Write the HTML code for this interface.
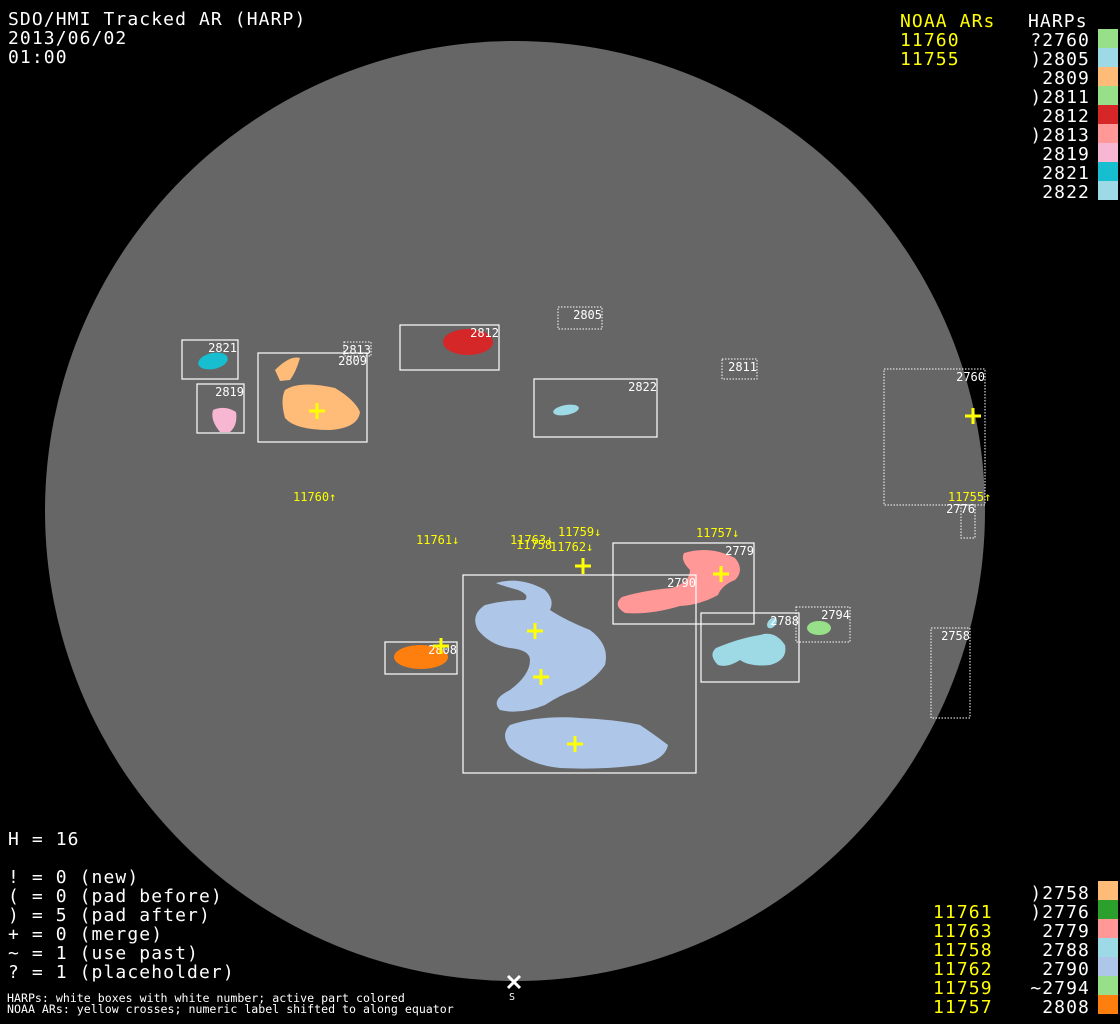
<!DOCTYPE html>
<html><head><meta charset="utf-8"><style>
html,body{margin:0;padding:0;background:#000;width:1120px;height:1024px;overflow:hidden}
svg{display:block}
text{font-family:"DejaVu Sans Mono","Liberation Mono",monospace}
.big{letter-spacing:1.1px}
</style></head><body>
<svg width="1120" height="1024" viewBox="0 0 1120 1024" xmlns="http://www.w3.org/2000/svg">
<rect width="1120" height="1024" fill="#000"/>
<circle cx="515" cy="511" r="470" fill="#666"/>

<!-- blobs -->
<ellipse cx="213" cy="361" rx="15" ry="8" fill="#17becf" transform="rotate(-12 213 361)"/>
<path d="M213,410 Q225,405 236,412 Q238,425 230,432 L220,432 Q210,420 213,410Z" fill="#f7b6d2"/>
<path d="M275,370 Q290,355 300,358 Q296,372 290,380 L280,381Z" fill="#ffbb78"/>
<path d="M285,390 Q300,380 335,388 Q355,400 360,412 Q358,428 330,430 Q295,430 285,418 Q280,400 285,390Z" fill="#ffbb78"/>
<ellipse cx="468" cy="342" rx="25" ry="13" fill="#d62728"/>
<ellipse cx="566" cy="410" rx="13" ry="5" fill="#9edae5" transform="rotate(-10 566 410)"/>
<path d="M496,583 Q520,576 545,590 Q555,600 550,610 Q565,620 590,630 Q610,645 605,665 Q595,680 575,690 Q560,695 545,705 Q520,715 500,710 Q490,700 510,690 Q530,675 530,660 Q530,650 510,648 Q490,645 478,630 Q470,615 485,605 Q505,600 525,600 Q530,595 518,590 Q500,585 496,583Z" fill="#aec7e8"/>
<path d="M510,725 Q540,715 580,718 Q620,720 640,725 Q655,735 668,745 Q665,760 640,765 Q600,770 560,768 Q530,765 510,748 Q500,735 510,725Z" fill="#aec7e8"/>
<path d="M684,553 Q710,545 735,558 Q745,570 735,580 Q722,585 718,595 Q700,605 680,606 Q650,615 625,613 Q612,605 622,597 Q645,590 672,588 Q690,582 690,570 Q680,560 684,553Z" fill="#ff9896"/>
<path d="M716,648 Q740,638 760,635 Q775,630 785,645 Q788,660 770,665 Q750,667 740,660 Q728,668 718,665 Q708,655 716,648Z" fill="#9edae5"/>
<ellipse cx="772" cy="623" rx="4" ry="6" fill="#9edae5" transform="rotate(40 772 623)"/>
<ellipse cx="819" cy="628" rx="12" ry="7" fill="#98df8a"/>
<ellipse cx="421" cy="657" rx="27" ry="12" fill="#ff7f0e"/>

<!-- boxes solid -->
<g fill="none" stroke="#fff" stroke-width="1.2">
<rect x="182" y="340" width="56" height="39"/>
<rect x="197" y="384" width="47" height="49"/>
<rect x="258" y="353" width="109" height="89"/>
<rect x="400" y="325" width="99" height="45"/>
<rect x="534" y="379" width="123" height="58"/>
<rect x="463" y="575" width="233" height="198"/>
<rect x="613" y="543" width="141" height="81"/>
<rect x="701" y="613" width="98" height="69"/>
<rect x="385" y="642" width="72" height="32"/>
</g>
<g fill="none" stroke="#fff" stroke-width="1" stroke-dasharray="1.5,1.5">
<rect x="344" y="342" width="27" height="14"/>
<rect x="558" y="307" width="44" height="22"/>
<rect x="722" y="359" width="35" height="20"/>
<rect x="884" y="369" width="101" height="136"/>
<rect x="961" y="505" width="14" height="33"/>
<rect x="931" y="628" width="39" height="90"/>
<rect x="796" y="607" width="54" height="35"/>
</g>
<g fill="#fff" font-size="12" text-anchor="end">
<text x="237" y="352">2821</text>
<text x="244" y="396">2819</text>
<text x="367" y="365">2809</text>
<text x="371" y="354">2813</text>
<text x="499" y="337">2812</text>
<text x="602" y="319">2805</text>
<text x="657" y="391">2822</text>
<text x="757" y="371">2811</text>
<text x="985" y="381">2760</text>
<text x="975" y="513">2776</text>
<text x="970" y="640">2758</text>
<text x="696" y="587">2790</text>
<text x="754" y="555">2779</text>
<text x="799" y="625">2788</text>
<text x="850" y="619">2794</text>
<text x="457" y="654">2808</text>
</g>
<!-- crosses -->
<g stroke="#ff0" stroke-width="3">
<path d="M309,411h16M317,403v16"/>
<path d="M965,416h16M973,408v16"/>
<path d="M575,566h16M583,558v16"/>
<path d="M713,574h16M721,566v16"/>
<path d="M527,631h16M535,623v16"/>
<path d="M533,677h16M541,669v16"/>
<path d="M567,744h16M575,736v16"/>
<path d="M433,646h16M441,638v16"/>
</g>
<g fill="#ff0" font-size="12">
<text x="293" y="501">11760↑</text>
<text x="416" y="544">11761↓</text>
<text x="516" y="549">11758</text>
<text x="510" y="544">11763↓</text>
<text x="558" y="536">11759↓</text>
<text x="550" y="551">11762↓</text>
<text x="696" y="537">11757↓</text>
<text x="948" y="501">11755↑</text>
</g>
<!-- S marker -->
<path d="M508,976l12,12M520,976l-12,12" stroke="#fff" stroke-width="3"/>
<text x="509" y="1000" fill="#fff" font-size="10">S</text>

<!-- top-left -->
<g fill="#fff" font-size="18" class="big">
<text x="8" y="25">SDO/HMI Tracked AR (HARP)</text>
<text x="8" y="44">2013/06/02</text>
<text x="8" y="63">01:00</text>
</g>
<!-- top right legend -->
<g font-size="18" class="big">
<text x="900" y="27" fill="#ff0">NOAA ARs</text>
<text x="900" y="46" fill="#ff0">11760</text>
<text x="900" y="65" fill="#ff0">11755</text>
<text x="1028" y="27" fill="#fff">HARPs</text>
<g fill="#fff" text-anchor="end">
<text x="1090" y="46">?2760</text>
<text x="1090" y="65">)2805</text>
<text x="1090" y="84">2809</text>
<text x="1090" y="103">)2811</text>
<text x="1090" y="122">2812</text>
<text x="1090" y="141">)2813</text>
<text x="1090" y="160">2819</text>
<text x="1090" y="179">2821</text>
<text x="1090" y="198">2822</text>
</g>
</g>
<rect x="1098" y="29" width="20" height="19" fill="#98df8a"/>
<rect x="1098" y="48" width="20" height="19" fill="#9edae5"/>
<rect x="1098" y="67" width="20" height="19" fill="#ffbb78"/>
<rect x="1098" y="86" width="20" height="19" fill="#98df8a"/>
<rect x="1098" y="105" width="20" height="19" fill="#d62728"/>
<rect x="1098" y="124" width="20" height="19" fill="#ff9896"/>
<rect x="1098" y="143" width="20" height="19" fill="#f7b6d2"/>
<rect x="1098" y="162" width="20" height="19" fill="#17becf"/>
<rect x="1098" y="181" width="20" height="19" fill="#9edae5"/>

<!-- bottom-left -->
<g fill="#fff" font-size="18" class="big">
<text x="8" y="845">H = 16</text>
<text x="8" y="883">! = 0 (new)</text>
<text x="8" y="902">( = 0 (pad before)</text>
<text x="8" y="921">) = 5 (pad after)</text>
<text x="8" y="940">+ = 0 (merge)</text>
<text x="8" y="959">~ = 1 (use past)</text>
<text x="8" y="978">? = 1 (placeholder)</text>
</g>
<g fill="#fff" font-size="11.6">
<text x="7" y="1002">HARPs: white boxes with white number; active part colored</text>
<text x="7" y="1013">NOAA ARs: yellow crosses; numeric label shifted to along equator</text>
</g>
<!-- bottom right legend -->
<g font-size="18" class="big">
<g fill="#ff0">
<text x="933" y="918">11761</text>
<text x="933" y="937">11763</text>
<text x="933" y="956">11758</text>
<text x="933" y="975">11762</text>
<text x="933" y="994">11759</text>
<text x="933" y="1013">11757</text>
</g>
<g fill="#fff" text-anchor="end">
<text x="1090" y="899">)2758</text>
<text x="1090" y="918">)2776</text>
<text x="1090" y="937">2779</text>
<text x="1090" y="956">2788</text>
<text x="1090" y="975">2790</text>
<text x="1090" y="994">~2794</text>
<text x="1090" y="1013">2808</text>
</g>
</g>
<rect x="1098" y="881" width="20" height="19" fill="#ffbb78"/>
<rect x="1098" y="900" width="20" height="19" fill="#2ca02c"/>
<rect x="1098" y="919" width="20" height="19" fill="#ff9896"/>
<rect x="1098" y="938" width="20" height="19" fill="#9edae5"/>
<rect x="1098" y="957" width="20" height="19" fill="#aec7e8"/>
<rect x="1098" y="976" width="20" height="19" fill="#98df8a"/>
<rect x="1098" y="995" width="20" height="19" fill="#ff7f0e"/>
</svg>
</body></html>
